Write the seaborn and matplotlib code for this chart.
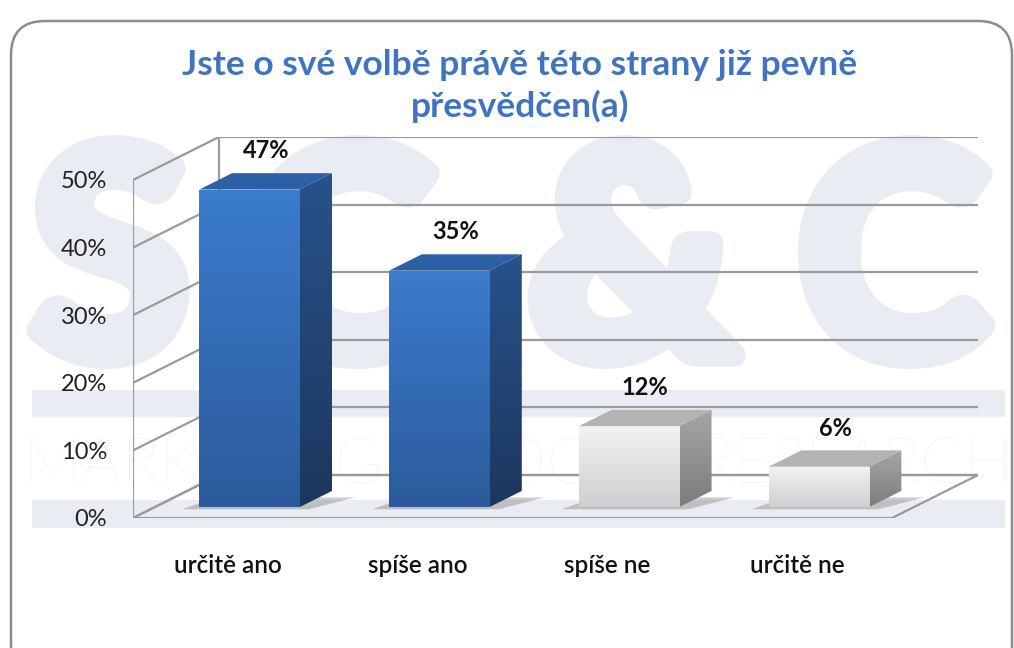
import numpy as np
import matplotlib
matplotlib.use("Agg")
import matplotlib.pyplot as plt
import matplotlib.patheffects as pe
import seaborn as sns
from matplotlib.patches import Polygon, FancyBboxPatch, Rectangle
from matplotlib.colors import LinearSegmentedColormap

# data
categories = ["určitě ano", "spíše ano", "spíše ne", "určitě ne"]
values = [47, 35, 12, 6]
value_labels = ["47%", "35%", "12%", "6%"]
y_ticks = [0, 10, 20, 30, 40, 50]
y_tick_labels = ["0%", "10%", "20%", "30%", "40%", "50%"]
title = "Jste o své volbě právě této strany již pevně\npřesvědčen(a)"

sns.set_theme(style="white")
plt.rcParams['font.family'] = ['Lato', 'DejaVu Sans']

fig = plt.figure(figsize=(10.14, 6.48), dpi=100)
fig.patch.set_facecolor("white")

# background layer in pixel coords: frame + watermark
bg = fig.add_axes([0, 0, 1, 1], zorder=0)
bg.set_xlim(0, 1014)
bg.set_ylim(648, 0)
bg.axis("off")
wm = "#e9edf3"
frame = FancyBboxPatch((11, 21), 1001, 660, boxstyle="round,pad=0,rounding_size=34",
                       fc="none", ec="#8c8c8c", lw=1.8)
bg.add_patch(frame)
for letter, cx in zip(["S", "C", "&", "C"], [110, 340, 632, 893]):
    bg.text(cx, 355, letter, ha="center", va="baseline", fontsize=205,
            fontweight="bold", color=wm,
            path_effects=[pe.withStroke(linewidth=17, foreground=wm)])
bg.add_patch(Rectangle((32, 390), 973, 27, fc=wm, ec="none"))
bg.add_patch(Rectangle((32, 500), 973, 28, fc=wm, ec="none"))
bg.text(518, 484, "MARKETING & SOCIAL RESEARCH", ha="center", va="baseline",
        fontsize=46, fontweight="light", color="#eef1f5")

# main axes = front plane of the 3D box
ax = fig.add_axes([133 / 1014, 1 - 518 / 648, 845 / 1014, 381 / 648], zorder=1)
ax.patch.set_alpha(0)

DX, DY = 0.453, 6.36        # full depth offset (x units, % units)
D0, D1 = 0.25, 0.63         # bar depth range as fraction of full depth
BW = 0.527
grid_c = "#9a9a9a"

front_cols = ["#3471c0", "#3471c0", "#e2e2e2", "#e2e2e2"]
sns.barplot(x=categories, y=values, hue=categories, palette=front_cols,
            order=categories, width=BW, legend=False, ax=ax, zorder=3,
            edgecolor="none")
bars = [p for p in ax.patches if isinstance(p, Rectangle)]

# walls
for v in y_ticks:
    ax.plot([-0.5, -0.5 + DX], [v, v + DY], color=grid_c, lw=1.6, zorder=1)
    ax.plot([-0.5 + DX, 3.5 + DX], [v + DY, v + DY], color=grid_c, lw=1.6, zorder=1)
ax.plot([-0.5, -0.5], [0, 50], color=grid_c, lw=1.6, zorder=1)
ax.plot([-0.5 + DX, -0.5 + DX], [DY, 50 + DY], color=grid_c, lw=1.6, zorder=1)
ax.add_patch(Polygon([(-0.5, 0), (3.5, 0), (3.5 + DX, DY), (-0.5 + DX, DY)],
                     closed=True, fc="none", ec=grid_c, lw=1.6, zorder=1))

blue_front = LinearSegmentedColormap.from_list("bf", ["#2b5b9c", "#3b7ccd"])
blue_side = LinearSegmentedColormap.from_list("bs", ["#1c375e", "#28528b"])
gray_front = LinearSegmentedColormap.from_list("gf", ["#cfcfcf", "#f3f3f3"])
gray_side = LinearSegmentedColormap.from_list("gs", ["#7c7c7c", "#a6a6a6"])
grad = np.linspace(0, 1, 256).reshape(-1, 1)

ddx, ddy = (D1 - D0) * DX, (D1 - D0) * DY
for i, (p, v) in enumerate(zip(bars, values)):
    blue = i < 2
    x0 = p.get_x() + D0 * DX
    y0 = D0 * DY
    p.set_x(x0)
    p.set_y(y0)
    x1 = x0 + BW
    top = y0 + v
    # shadow on the floor
    ax.add_patch(Polygon([(x0 - 0.09, y0 - 0.3), (x1 + 0.05, y0 - 0.3),
                          (x1 + ddx + 0.12, y0 + ddy * 0.6), (x0 + ddx - 0.09, y0 + ddy * 0.6)],
                         closed=True, fc="#6b6b6b", ec="none", alpha=0.35, zorder=2))
    # front gradient
    im = ax.imshow(grad, extent=[x0, x1, y0, top], origin="lower", aspect="auto",
                   cmap=blue_front if blue else gray_front, zorder=3.1)
    im.set_clip_path(p)
    # side face
    side = Polygon([(x1, y0), (x1, top), (x1 + ddx, top + ddy), (x1 + ddx, y0 + ddy)],
                   closed=True, fc="none", ec="none", zorder=3)
    ax.add_patch(side)
    ims = ax.imshow(grad, extent=[x1, x1 + ddx, y0, top + ddy], origin="lower",
                    aspect="auto", cmap=blue_side if blue else gray_side, zorder=3)
    ims.set_clip_path(side)
    # top face
    ax.add_patch(Polygon([(x0, top), (x1, top), (x1 + ddx, top + ddy), (x0 + ddx, top + ddy)],
                         closed=True, fc="#2c5fa4" if blue else "#b3b3b3", ec="none", zorder=3.2))
    ax.text(x0 + BW / 2 + ddx / 2, top + ddy + 1.6, value_labels[i], ha="center",
            va="bottom", fontsize=17, fontweight="bold", color="#111111", zorder=5)

ax.set_xlim(-0.5, 3.5 + DX)
ax.set_ylim(0, 50 + DY)
ax.set_yticks(y_ticks)
ax.set_yticklabels(y_tick_labels, fontsize=17, color="#222222")
ax.set_xticks(range(len(categories)))
ax.set_xticklabels(categories, fontsize=17.5, fontweight="semibold", color="#111111")
ax.tick_params(axis="y", length=0, pad=18.5)
ax.tick_params(axis="x", length=0, pad=26)
ax.set_xlabel("")
ax.set_ylabel("")
for s in ax.spines.values():
    s.set_visible(False)

fig.text(520 / 1014, 1 - 86 / 648, title, ha="center", va="center", fontsize=25.5,
         fontweight="bold", color="#4074c0", linespacing=1.33)

fig.savefig("out.png", dpi=100)
